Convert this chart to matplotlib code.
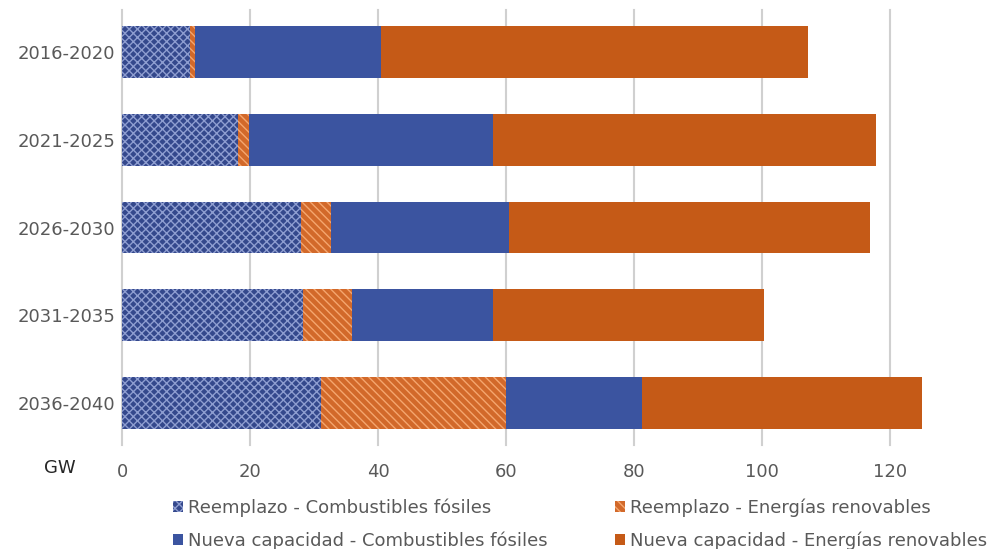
import matplotlib.pyplot as plt
import numpy as np

plt.rcParams['font.family'] = ['DejaVu Sans']
plt.rcParams['hatch.linewidth'] = 1.0

periodos = ['2016-2020', '2021-2025', '2026-2030', '2031-2035', '2036-2040']

# GW por periodo
reemplazo_fosil = [10.6, 18.1, 28.0, 28.3, 31.1]
reemplazo_renov = [0.8, 1.7, 4.7, 7.6, 28.9]
nueva_fosil = [29.1, 38.2, 27.7, 22.0, 21.3]
nueva_renov = [66.7, 59.8, 56.5, 42.4, 43.7]

azul = '#3B54A0'
naranja = '#C55A17'
gris_texto = '#595959'

fig = plt.figure(figsize=(10.02, 5.49), dpi=100)
ax = fig.add_axes([122/1002, 1-445/549, 896/1002, 435/549])

y = np.arange(len(periodos))
alto = 0.59
izq = np.zeros(len(periodos))

ax.barh(y, reemplazo_fosil, alto, left=izq, color='#34488C', edgecolor='#8E9DD0',
        hatch='xxxx', linewidth=0, label='Reemplazo - Combustibles fósiles', zorder=3)
izq += reemplazo_fosil
ax.barh(y, reemplazo_renov, alto, left=izq, color='#D2692A', edgecolor='#F5A66E',
        hatch='\\\\\\\\', linewidth=0, label='Reemplazo - Energías renovables', zorder=3)
izq += reemplazo_renov
ax.barh(y, nueva_fosil, alto, left=izq, color=azul, linewidth=0,
        label='Nueva capacidad - Combustibles fósiles', zorder=3)
izq += nueva_fosil
ax.barh(y, nueva_renov, alto, left=izq, color=naranja, linewidth=0,
        label='Nueva capacidad - Energías renovables', zorder=3)

ax.set_xlim(0, 140)
ax.set_ylim(4.48, -0.48)
ax.set_xticks(range(0, 121, 20))
ax.set_yticks(y)
ax.set_yticklabels(periodos)
ax.grid(axis='x', color='#D0D0D0', linewidth=1.5, zorder=0)
for linea in ax.get_xgridlines():
    linea.set_clip_on(False)
for s in ax.spines.values():
    s.set_visible(False)
ax.tick_params(length=0, labelsize=13, colors=gris_texto)
ax.tick_params(axis='x', pad=13)
ax.tick_params(axis='y', pad=5)

fig.text(60/1002, 1-468/549, 'GW', ha='center', va='center', fontsize=13, color='#262626')

# leyenda en filas: reemplazo arriba, nueva capacidad abajo
h, l = ax.get_legend_handles_labels()
orden = [0, 2, 1, 3]
fig.legend([h[i] for i in orden], [l[i] for i in orden], ncol=2, loc='center',
           bbox_to_anchor=(580/1002, 1-524/549), frameon=False, fontsize=13,
           labelcolor=gris_texto, handlelength=0.55, handleheight=0.55,
           handletextpad=0.3, columnspacing=3.7, labelspacing=0.8)

fig.savefig('out.png', dpi=100)
